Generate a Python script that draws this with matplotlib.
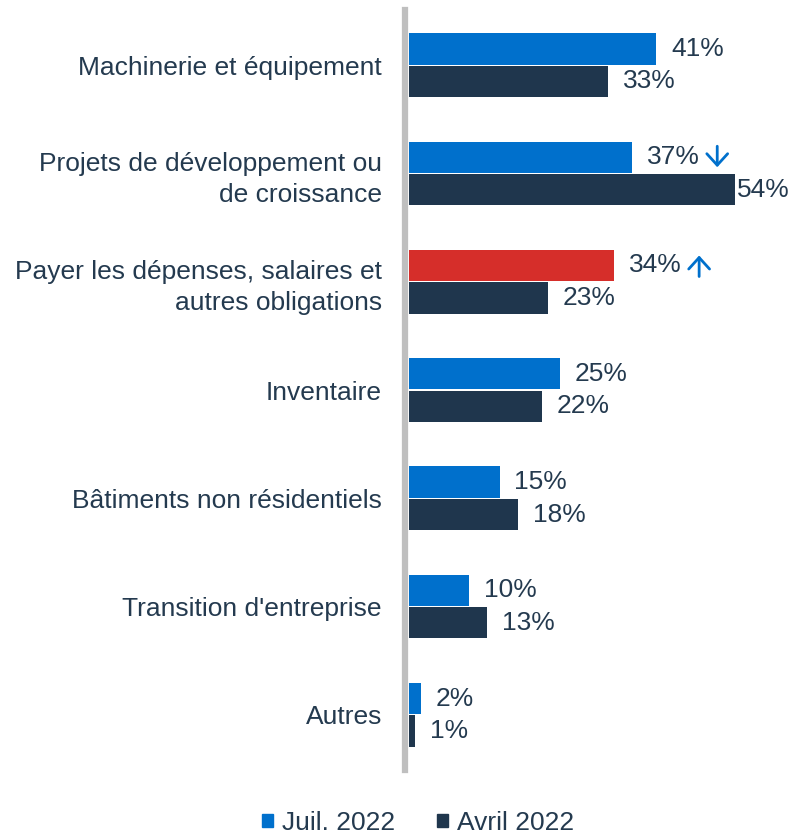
import numpy as np
import matplotlib.pyplot as plt
import matplotlib.transforms as mtransforms

plt.rcParams['font.family'] = ['Liberation Sans', 'DejaVu Sans']

categories = ['Machinerie et équipement',
              'Projets de développement ou\nde croissance',
              'Payer les dépenses, salaires et\nautres obligations',
              'Inventaire',
              'Bâtiments non résidentiels',
              "Transition d'entreprise",
              'Autres']
juil_2022 = [41, 37, 34, 25, 15, 10, 2]
avril_2022 = [33, 54, 23, 22, 18, 13, 1]
# marqueurs de variation significative (None = aucun)
trend = [None, 'down', 'up', None, None, None, None]

blue = '#0070CC'
navy = '#1F364D'
red = '#D62E2A'
txt = '#243A4F'

fig = plt.figure(figsize=(7.92, 8.38), dpi=100)
ax = fig.add_axes([409/792, 1-770/838, 362/792, 760/838])

# axe vertical gris, légèrement décalé des barres
for s in ['top', 'right', 'bottom']:
    ax.spines[s].set_visible(False)
ax.spines['left'].set_position(('outward', 3))
ax.spines['left'].set_color('#BFBFBF')
ax.spines['left'].set_linewidth(4.5)

y = np.arange(len(categories))
h = 0.29
off = 0.15
colors_juil = [red if t == 'up' else blue for t in trend]
b1 = ax.barh(y-off, juil_2022, height=h, color=colors_juil, label='Juil. 2022')
b2 = ax.barh(y+off, avril_2022, height=h, color=navy, label='Avril 2022')

fs = 19
for i in range(len(categories)):
    ax.annotate(f'{juil_2022[i]}%', (juil_2022[i], y[i]-off), xytext=(15, 0),
                textcoords='offset pixels', va='center', ha='left',
                fontsize=fs, color=txt)
    dx = 2 if avril_2022[i] >= 50 else 15
    ax.annotate(f'{avril_2022[i]}%', (avril_2022[i], y[i]+off), xytext=(dx, 0),
                textcoords='offset pixels', va='center', ha='left',
                fontsize=fs, color=txt)
    if trend[i] is not None:
        # flèche à ~85 px de l'extrémité de la barre
        sign = -1 if trend[i] == 'down' else 1
        shift = mtransforms.ScaledTranslation(85/100, sign*10/100, fig.dpi_scale_trans)
        ax.annotate('', xy=(juil_2022[i], y[i]-off), xycoords=ax.transData + shift,
                    xytext=(0, -sign*21), textcoords='offset pixels',
                    arrowprops=dict(arrowstyle='->, head_length=0.55, head_width=0.5',
                                    lw=2.0, color=blue, mutation_scale=15,
                                    shrinkA=0, shrinkB=0))

ax.set_xlim(0, 60)
ax.set_ylim(6.51, -0.51)
ax.set_yticks(y)
ax.set_yticklabels(categories, fontsize=fs, color=txt, linespacing=1.38)
ax.tick_params(axis='y', length=0, pad=16.5)
ax.set_xticks([])

handles = [plt.Rectangle((0, 0), 1, 1, color=blue),
           plt.Rectangle((0, 0), 1, 1, color=navy)]
fig.legend(handles, ['Juil. 2022', 'Avril 2022'], loc='center',
           bbox_to_anchor=(418/792, 1-823/838), ncol=2, frameon=False,
           fontsize=fs, labelcolor=txt, handlelength=0.4, handleheight=0.4,
           handletextpad=0.35, columnspacing=1.6, borderpad=0.1)

plt.savefig('out.png', dpi=100)
